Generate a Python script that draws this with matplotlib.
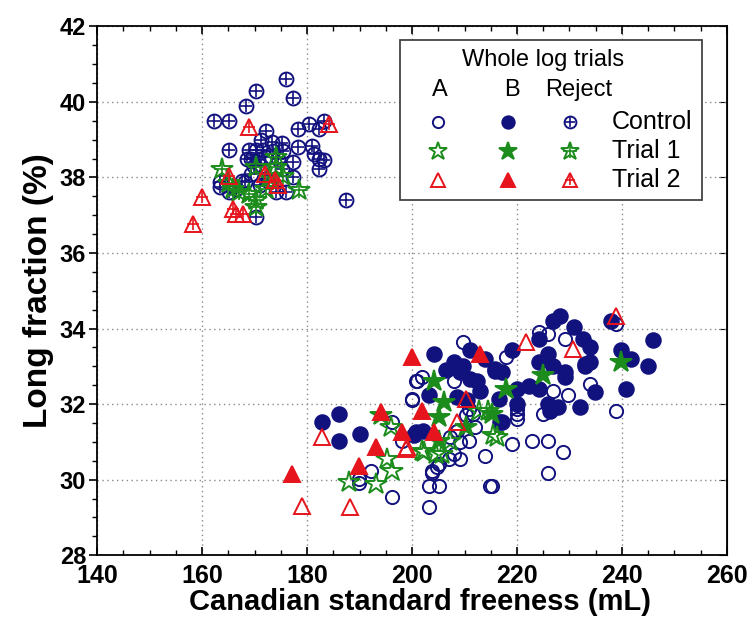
import matplotlib
matplotlib.use('Agg')
import matplotlib.pyplot as plt
from matplotlib.patches import Rectangle

plt.rcParams['font.family'] = ['Liberation Sans', 'DejaVu Sans']

NAVY = '#12127f'
GREEN = '#1c8c1c'
RED = '#e6141c'

# --- lower cluster (whole log trials A / B) ---
ctrl_a_x = [192.1, 189.9, 189.9, 196.2, 196.2, 198.1, 199.9, 200.7, 209.8, 201.0, 201.9, 200.0, 207.9,
            210.8, 211.7, 210.2, 207.3, 209.1, 210.8, 207.9, 209.2, 207.0, 205.1, 203.8, 203.2, 205.1,
            203.2, 213.9, 214.9, 224.1, 226.0, 229.1, 218.0, 226.9, 229.8, 220.0, 220.0, 220.0, 225.0,
            222.8, 226.0, 219.0, 228.8, 226.0, 215.2, 238.9, 233.9, 238.9, 203.8, 204.7, 208.5, 212.0]
ctrl_a_y = [30.24, 30.02, 29.90, 29.53, 31.52, 31.03, 32.11, 32.62, 33.64, 32.62, 32.71, 32.14, 32.62,
            31.87, 31.74, 31.70, 31.12, 31.00, 31.03, 30.68, 30.55, 30.55, 30.41, 30.24, 29.84, 29.84,
            29.27, 30.64, 29.84, 33.90, 33.86, 33.73, 33.24, 32.36, 32.23, 31.87, 31.74, 31.61, 31.74,
            31.03, 31.03, 30.95, 30.72, 30.19, 29.84, 34.12, 32.54, 31.83, 30.19, 30.33, 31.30, 31.40]

ctrl_b_x = [182.9, 186.1, 186.1, 190.1, 200.3, 204.1, 207.9, 209.8, 209.2, 211.1, 212.4, 211.1, 213.9,
            215.8, 213.0, 203.2, 200.7, 210.5, 208.5, 226.9, 228.2, 230.9, 232.6, 224.1, 226.0, 224.1,
            226.9, 229.1, 229.1, 232.9, 219.0, 215.8, 217.1, 220.0, 222.2, 224.1, 216.5, 220.0, 226.0,
            226.3, 227.9, 232.0, 217.1, 238.0, 233.9, 245.9, 239.9, 241.8, 245.0, 233.9, 232.9, 234.8,
            240.8, 216.8, 202.0, 206.5]
ctrl_b_y = [31.52, 31.74, 31.03, 31.21, 31.17, 33.33, 33.11, 33.02, 32.84, 32.67, 32.62, 33.42, 33.20,
            32.89, 32.36, 32.23, 31.25, 32.10, 32.20, 34.21, 34.34, 34.03, 33.73, 33.73, 33.33, 33.11,
            33.02, 32.84, 32.71, 33.06, 33.42, 32.93, 32.84, 32.40, 32.49, 32.40, 32.14, 32.00, 32.00,
            31.83, 31.92, 31.92, 31.52, 34.21, 33.50, 33.70, 33.42, 33.20, 33.02, 33.11, 33.02, 32.31,
            32.40, 31.52, 31.30, 32.90]

tr1_a_x = [188.0, 193.1, 195.3, 196.2, 195.9, 202.2, 204.5, 207.3, 212.7, 214.4, 215.5, 216.1, 201.9, 205.7]
tr1_a_y = [29.93, 29.89, 30.55, 30.24, 31.39, 30.72, 30.68, 31.03, 31.83, 31.83, 31.17, 31.12, 30.77, 30.68]

tr1_b_x = [194.0, 204.1, 206.0, 205.1, 205.1, 210.2, 225.0, 218.0, 215.2, 239.9]
tr1_b_y = [31.70, 32.62, 32.05, 31.65, 31.03, 31.39, 32.76, 32.40, 31.74, 33.11]

tr2_a_x = [182.9, 179.1, 188.1, 198.9, 210.2, 199.1, 208.6, 221.8, 230.7, 238.9]
tr2_a_y = [31.12, 29.31, 29.27, 30.81, 32.14, 30.86, 31.52, 33.64, 33.46, 34.34]

tr2_b_x = [177.1, 189.9, 193.1, 194.0, 198.1, 200.0, 201.9, 204.1, 213.0]
tr2_b_y = [30.15, 30.37, 30.86, 31.78, 31.25, 33.24, 31.83, 31.25, 33.33]

# --- upper cluster (reject) ---
rej_ctrl_x = [176.0, 170.3, 177.3, 168.3, 162.3, 165.2, 172.2, 178.2, 180.3, 182.3, 183.3, 171.3, 173.3,
              175.2, 178.2, 181.0, 181.4, 182.3, 183.3, 182.3, 165.2, 177.3, 175.2, 177.3, 163.3, 163.3,
              165.2, 168.1, 174.1, 176.0, 170.3, 187.4, 169.0, 170.3, 171.6, 169.3, 170.6, 172.0, 168.5,
              169.9, 171.2, 169.3, 173.5, 174.4, 175.4, 171.0, 172.5, 166.5, 167.5]
rej_ctrl_y = [40.61, 40.30, 40.11, 39.90, 39.49, 39.49, 39.23, 39.29, 39.42, 39.29, 39.50, 39.00, 38.93,
              38.91, 38.80, 38.82, 38.63, 38.50, 38.45, 38.23, 38.72, 38.40, 38.23, 38.00, 37.88, 37.74,
              37.61, 37.88, 37.61, 37.61, 36.95, 37.39, 38.72, 38.72, 38.72, 38.50, 38.50, 38.55, 38.50,
              38.30, 38.30, 38.10, 38.70, 38.50, 38.70, 37.80, 37.90, 37.70, 37.90]

rej_tr1_x = [163.7, 165.9, 167.1, 169.0, 170.3, 170.3, 172.2, 174.1, 174.1, 170.3, 175.4, 178.5, 172.8, 165.2]
rej_tr1_y = [38.23, 37.70, 37.61, 37.57, 37.39, 37.21, 37.70, 38.54, 38.27, 38.27, 38.05, 37.66, 38.00, 37.85]

rej_tr2_x = [169.0, 184.2, 159.9, 158.3, 165.2, 166.5, 167.8, 171.9, 173.8, 174.4, 165.9]
rej_tr2_y = [39.33, 39.42, 37.48, 36.77, 38.05, 37.04, 37.04, 38.10, 37.92, 37.79, 37.17]

col_labels = ['A', 'B', 'Reject']
row_labels = ['Control', 'Trial 1', 'Trial 2']

# marker styles: (marker, size, filled, with plus, colour)
STY = {
    ('Control', 'A'): ('o', 9.5, False, False, NAVY),
    ('Control', 'B'): ('o', 10.5, True, False, NAVY),
    ('Control', 'Reject'): ('o', 10, False, True, NAVY),
    ('Trial 1', 'A'): ('*', 16, False, False, GREEN),
    ('Trial 1', 'B'): ('*', 16, True, False, GREEN),
    ('Trial 1', 'Reject'): ('*', 16, False, True, GREEN),
    ('Trial 2', 'A'): ('^', 12, False, False, RED),
    ('Trial 2', 'B'): ('^', 12, True, False, RED),
    ('Trial 2', 'Reject'): ('^', 12, False, True, RED),
}


def draw(ax, x, y, key, scale=1.0, **kw):
    m, ms, filled, plus, c = STY[key]
    ms = ms * scale
    ax.plot(x, y, ls='none', marker=m, ms=ms, mec=c, mfc=c if filled else 'none',
            mew=1.4, **kw)
    if plus:
        ax.plot(x, y, ls='none', marker='+', ms=ms * (0.9 if m == 'o' else 0.7), mec=c, mew=1.2, **kw)


fig = plt.figure(figsize=(7.54, 6.26), dpi=100)
ax = fig.add_axes([0.129, 0.113, 0.835, 0.845])

draw(ax, ctrl_a_x, ctrl_a_y, ('Control', 'A'))
draw(ax, ctrl_b_x, ctrl_b_y, ('Control', 'B'))
draw(ax, tr1_a_x, tr1_a_y, ('Trial 1', 'A'))
draw(ax, tr1_b_x, tr1_b_y, ('Trial 1', 'B'))
draw(ax, tr2_a_x, tr2_a_y, ('Trial 2', 'A'))
draw(ax, tr2_b_x, tr2_b_y, ('Trial 2', 'B'))
draw(ax, rej_ctrl_x, rej_ctrl_y, ('Control', 'Reject'))
draw(ax, rej_tr1_x, rej_tr1_y, ('Trial 1', 'Reject'))
draw(ax, rej_tr2_x, rej_tr2_y, ('Trial 2', 'Reject'))

ax.set_xlim(140, 260)
ax.set_ylim(28, 42)
ax.set_xticks(range(140, 261, 20))
ax.set_yticks(range(28, 43, 2))
ax.set_xticks(range(140, 261, 5), minor=True)
ax.set_yticks([28 + 0.5 * i for i in range(29)], minor=True)
ax.grid(True, which='major', ls=(0, (1, 2.5)), color='#8a8a8a', lw=1.0)
ax.tick_params(axis='x', which='both', direction='in', top=True, labelsize=18, pad=6)
ax.tick_params(axis='y', which='both', direction='out', labelsize=17, pad=2)
ax.tick_params(which='major', length=6, width=1.2)
ax.tick_params(which='minor', length=3.5, width=1.0)
for lab in ax.get_xticklabels() + ax.get_yticklabels():
    lab.set_fontweight('bold')
for sp in ax.spines.values():
    sp.set_linewidth(1.3)
sec = ax.secondary_yaxis('right')
sec.set_yticks(range(28, 43, 2))
sec.tick_params(direction='in', length=6, labelright=False)

ax.set_xlabel('Canadian standard freeness (mL)', fontsize=21, fontweight='bold', labelpad=-1)
ax.xaxis.set_label_coords(0.513, -0.062)
ax.set_ylabel('Long fraction (%)', fontsize=24, fontweight='bold', labelpad=4)

# legend drawn by hand as a table of symbols
box = Rectangle((0.481, 0.671), 0.479, 0.304, transform=ax.transAxes, fc='white',
                ec='#444444', lw=1.3, zorder=5)
ax.add_patch(box)
ax.text(0.708, 0.936, 'Whole log trials', transform=ax.transAxes, ha='center', va='center',
        fontsize=17, zorder=6)
col_x = [0.541, 0.652, 0.751]
head_x = [0.544, 0.659, 0.765]
row_y = [0.820, 0.764, 0.709]
for hx, lab in zip(head_x, col_labels):
    ax.text(hx, 0.879, lab, transform=ax.transAxes, ha='center', va='center', fontsize=17, zorder=6)
for ry, rl in zip(row_y, row_labels):
    ax.text(0.817, ry, rl, transform=ax.transAxes, ha='left', va='center', fontsize=18, zorder=6)
    for cx, cl in zip(col_x, col_labels):
        draw(ax, [cx], [ry], (rl, cl), scale=0.85, transform=ax.transAxes, zorder=7, clip_on=False)

fig.savefig('out.png', dpi=100)
